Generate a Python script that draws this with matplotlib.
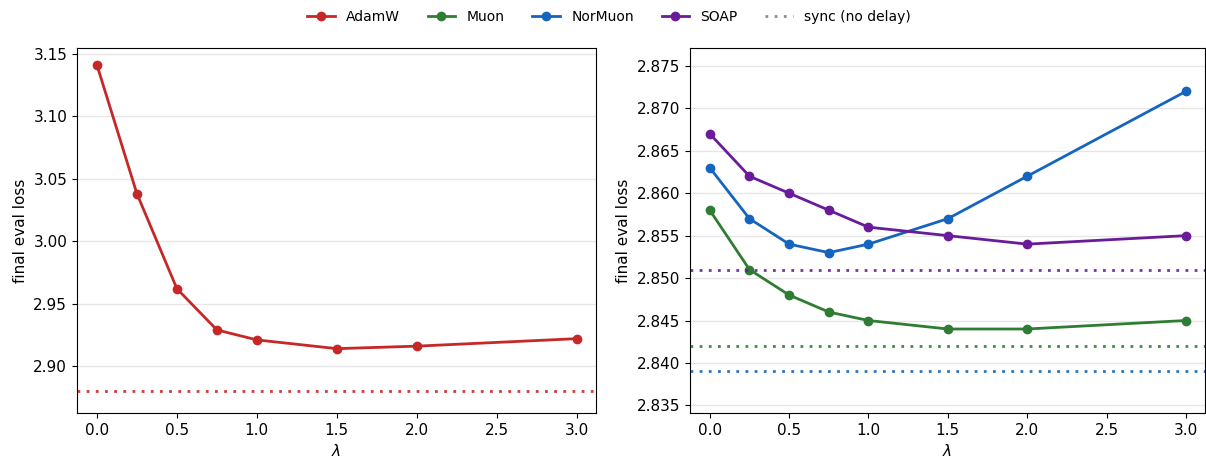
import matplotlib
matplotlib.use("Agg")
import matplotlib.pyplot as plt
from matplotlib.lines import Line2D

lambdas = [0.0, 0.25, 0.5, 0.75, 1.0, 1.5, 2.0, 3.0]

adamw = [3.141, 3.038, 2.962, 2.929, 2.921, 2.914, 2.916, 2.922]
muon = [2.858, 2.851, 2.848, 2.846, 2.845, 2.844, 2.844, 2.845]
normuon = [2.863, 2.857, 2.854, 2.853, 2.854, 2.857, 2.862, 2.872]
soap = [2.867, 2.862, 2.860, 2.858, 2.856, 2.855, 2.854, 2.855]

sync_adamw = 2.880
sync_muon = 2.842
sync_normuon = 2.839
sync_soap = 2.851

colors = {
    "AdamW": "#c62828",
    "Muon": "#2e7d32",
    "NorMuon": "#1565c0",
    "SOAP": "#6a1b9a",
}

plt.rcParams["font.family"] = "DejaVu Sans"
plt.rcParams["font.size"] = 11

fig = plt.figure(figsize=(12.06, 4.59), dpi=100)
ax1 = fig.add_axes([0.0638, 0.1002, 0.4303, 0.795])
ax2 = fig.add_axes([0.5721, 0.1002, 0.4270, 0.795])

SYNC_DASHES = (1, 2.3)


def style(ax):
    ax.grid(axis="y", color="#e6e6e6", linewidth=0.9)
    ax.set_axisbelow(True)
    ax.set_xlabel(r"$\lambda$", fontsize=11)
    ax.set_ylabel("final eval loss", fontsize=11)
    ax.set_xticks([0.0, 0.5, 1.0, 1.5, 2.0, 2.5, 3.0])
    ax.set_xlim(-0.125, 3.12)
    ax.tick_params(labelsize=11)


# left panel: AdamW
ax1.plot(lambdas, adamw, "-o", color=colors["AdamW"], lw=2, ms=6)
ax1.axhline(sync_adamw, color=colors["AdamW"], lw=2, alpha=0.9,
            dashes=SYNC_DASHES)
ax1.set_ylim(2.8625, 3.1545)
ax1.set_yticks([2.90, 2.95, 3.00, 3.05, 3.10, 3.15])
style(ax1)

# right panel: Muon, NorMuon, SOAP
for name, vals, sync in [
    ("Muon", muon, sync_muon),
    ("NorMuon", normuon, sync_normuon),
    ("SOAP", soap, sync_soap),
]:
    ax2.plot(lambdas, vals, "-o", color=colors[name], lw=2, ms=6)
    ax2.axhline(sync, color=colors[name], lw=2, alpha=0.9, dashes=SYNC_DASHES)
ax2.set_ylim(2.8341, 2.8771)
ax2.set_yticks([2.835, 2.840, 2.845, 2.850, 2.855, 2.860, 2.865, 2.870, 2.875])
ax2.yaxis.set_major_formatter(matplotlib.ticker.FormatStrFormatter("%.3f"))
style(ax2)

handles = [
    Line2D([], [], color=colors[n], marker="o", lw=2, ms=6, label=n)
    for n in ["AdamW", "Muon", "NorMuon", "SOAP"]
]
handles.append(Line2D([], [], color="gray", lw=2, alpha=0.9,
                      dashes=SYNC_DASHES, label="sync (no delay)"))
fig.legend(handles=handles, loc="center", bbox_to_anchor=(0.505, 0.963),
           ncol=5, frameon=False, fontsize=10, columnspacing=2.0)

fig.savefig("out.png", dpi=100)
